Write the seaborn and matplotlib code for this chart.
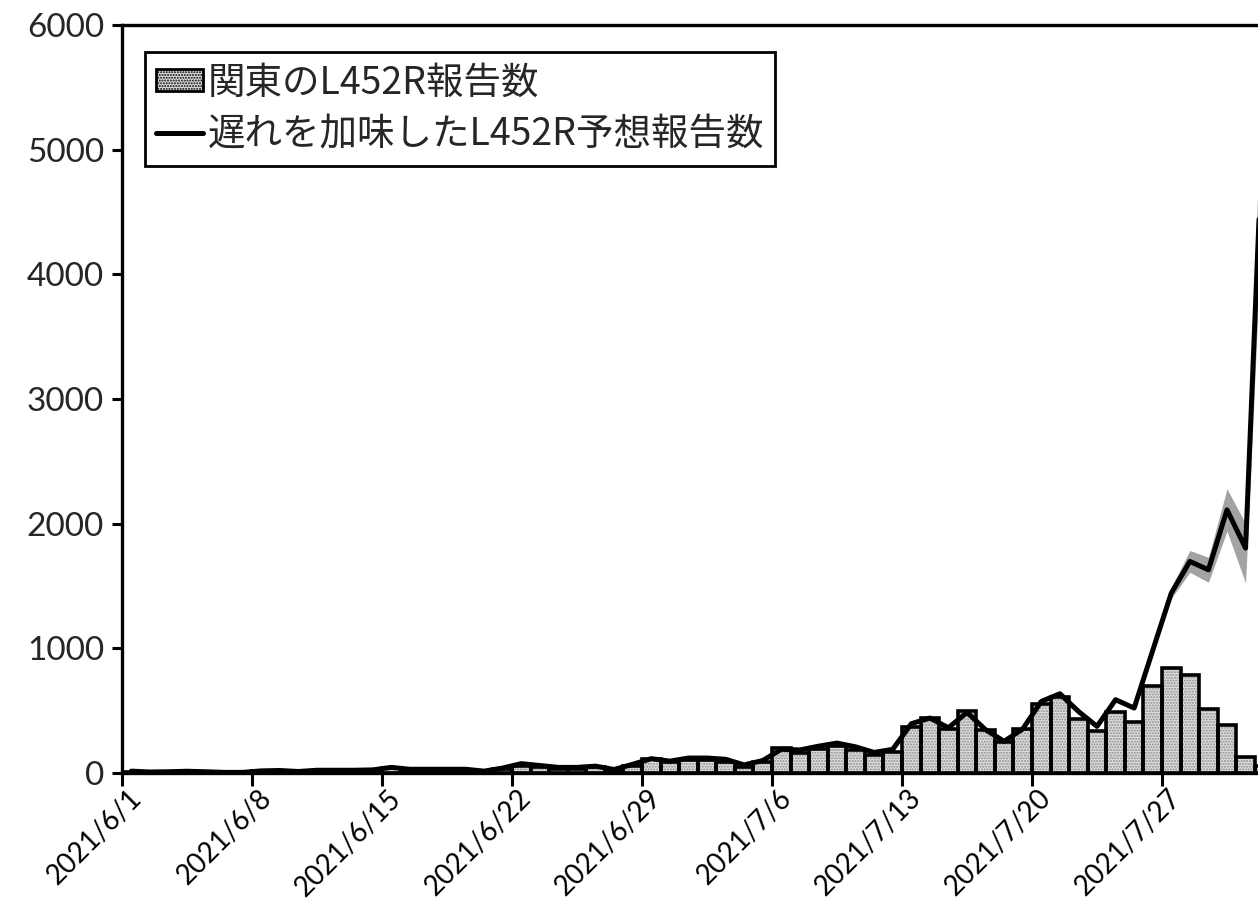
import numpy as np
import pandas as pd
import matplotlib
matplotlib.use("Agg")
import matplotlib.pyplot as plt
import matplotlib.transforms as mtransforms
import seaborn as sns
from matplotlib.patches import Patch
from matplotlib.lines import Line2D
from matplotlib.font_manager import FontProperties

sns.set_theme(style="white")
plt.rcParams["font.family"] = ["Lato", "Noto Sans CJK JP", "DejaVu Sans"]

# Daily L452R reports in Kanto, 2021/6/1 .. 2021/8/1
reported = [
    12, 5, 8, 12, 8, 3, 3,
    15, 18, 10, 20, 20, 20, 22,
    38, 28, 28, 28, 28, 12, 35,
    58, 45, 35, 35, 45, 21, 58,
    112, 85, 101, 101, 89, 48, 85,
    200, 160, 193, 217, 185, 141, 171,
    365, 441, 353, 499, 342, 246, 353,
    552, 606, 433, 334, 486, 406, 700,
    841, 783, 513, 387, 125, 53,
]

# Expected reports after accounting for reporting delay
expected = [
    15, 8, 10, 14, 10, 5, 5,
    17, 20, 12, 22, 22, 22, 25,
    45, 30, 30, 30, 30, 15, 40,
    75, 60, 45, 45, 55, 28, 70,
    115, 95, 120, 120, 110, 65, 100,
    190, 185, 215, 240, 210, 165, 190,
    395, 441, 363, 486, 347, 254, 353,
    574, 636, 494, 374, 588, 521, 983,
    1443, 1697, 1630, 2111, 1804, 5450,
]

# Uncertainty band for the most recent days (2021/7/25 .. 2021/8/1)
band_start = 54
band_lower = [516, 963, 1400, 1610, 1530, 1940, 1524, 4800]
band_upper = [526, 1003, 1490, 1785, 1730, 2280, 2000, 6100]

tick_labels = ["2021/6/1", "2021/6/8", "2021/6/15", "2021/6/22", "2021/6/29",
               "2021/7/6", "2021/7/13", "2021/7/20", "2021/7/27"]
y_ticks = [0, 1000, 2000, 3000, 4000, 5000, 6000]

label_bars = "関東のL452R報告数"
label_line = "遅れを加味したL452R予想報告数"

days = np.arange(len(reported))
df = pd.DataFrame({"day": days, "reported": reported, "expected": expected})

W, H = 1258, 916
fig = plt.figure(figsize=(W / 100, H / 100), dpi=100)
ax = fig.add_axes([122 / W, 1 - 773 / H, 1 - 122 / W, (773 - 25) / H])

bar_face = "#dedede"
n = len(reported)

# stippled fill
sns.histplot(data=df, x="day", weights="reported", binwidth=1, binrange=(0, n),
             ax=ax, facecolor=bar_face, edgecolor="#8c8c8c", hatch="......",
             linewidth=0, alpha=1, zorder=1)
# black outlines
sns.histplot(data=df, x="day", weights="reported", binwidth=1, binrange=(0, n),
             ax=ax, fill=False, color="black", linewidth=2.6, alpha=1, zorder=2)

bx = days[band_start:] + 0.5
ax.fill_between(bx, band_lower, band_upper, color="#a3a3a3", linewidth=0, zorder=3)
sns.lineplot(data=df.assign(x=df["day"] + 0.5), x="x", y="expected", ax=ax,
             color="black", linewidth=3.6, zorder=4)

ax.set_xlim(0, (W - 122) / (130 / 7))
ax.set_ylim(0, 6000)
tick_pos = np.arange(0, 7 * len(tick_labels), 7)
ax.set_xticks(tick_pos)
ax.set_xticklabels([])
# slanted date labels, each ending just right of its tick
offset = mtransforms.ScaledTranslation(6 / 100, -12 / 100, fig.dpi_scale_trans)
for pos, lab in zip(tick_pos, tick_labels):
    ax.text(pos, 0, lab, transform=ax.get_xaxis_transform() + offset,
            rotation=45, ha="right", va="top", rotation_mode="anchor",
            fontsize=20, color="black", clip_on=False)
ax.set_yticks(y_ticks)
ax.set_yticklabels([str(v) for v in y_ticks], fontsize=24)
ax.set_xlabel("")
ax.set_ylabel("")

ax.tick_params(axis="x", direction="out", length=9, width=2.2, color="black",
               bottom=True)
ax.tick_params(axis="y", direction="out", length=7, width=2.2, color="black",
               left=True, pad=6)
for side in ["left", "bottom", "top"]:
    ax.spines[side].set_visible(True)
    ax.spines[side].set_color("black")
    ax.spines[side].set_linewidth(2.4)
ax.spines["right"].set_visible(False)
ax.grid(False)

handles = [
    Patch(facecolor=bar_face, edgecolor="black", hatch="......", linewidth=2),
    Line2D([], [], color="black", linewidth=3.6),
]
leg = ax.legend(handles, [label_bars, label_line], loc="upper left",
                bbox_to_anchor=((145 - 122) / (W - 122), (773 - 52) / (773 - 25)),
                borderaxespad=0, prop=FontProperties(family=["Noto Sans CJK JP"], size=27),
                frameon=True, fancybox=False, framealpha=1, edgecolor="black",
                handlelength=1.25, handleheight=0.5, handletextpad=0.12,
                borderpad=0.3, labelspacing=0.35)
leg.get_frame().set_linewidth(2)

fig.savefig("out.png", dpi=100)
